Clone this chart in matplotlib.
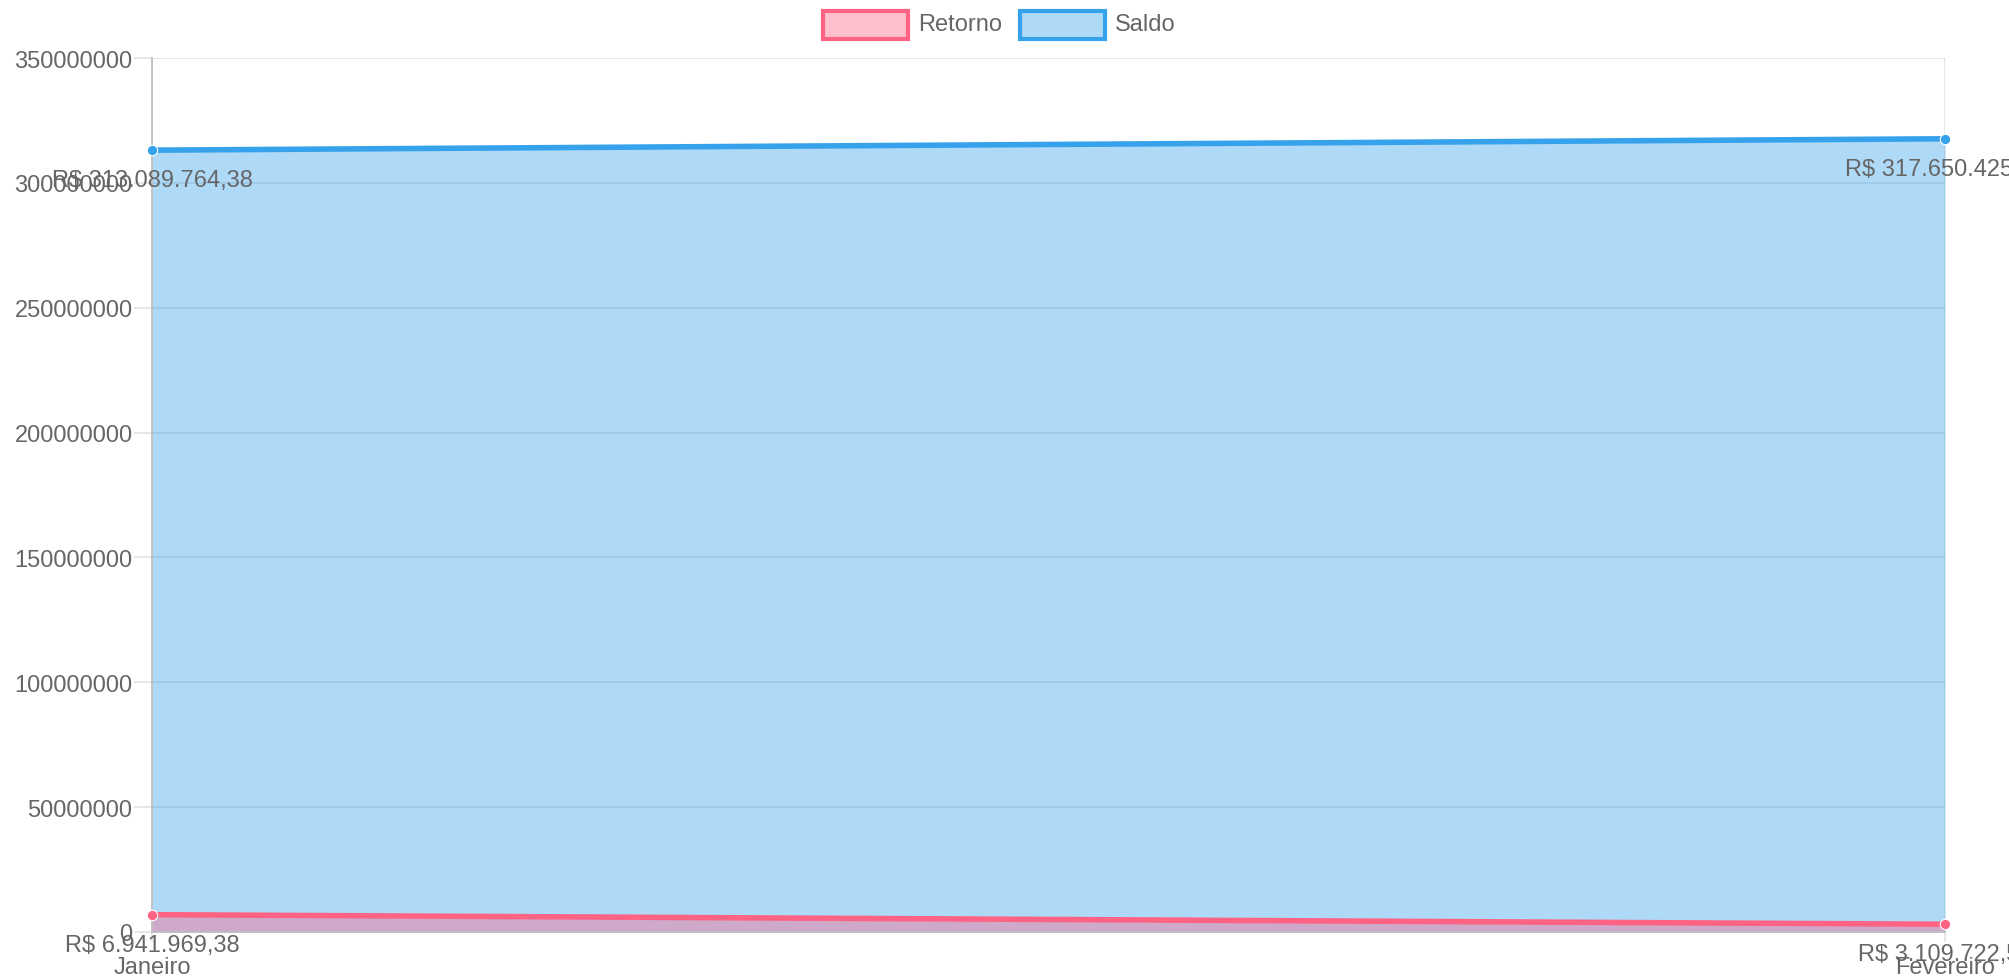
import matplotlib.pyplot as plt
from matplotlib.patches import Rectangle
from matplotlib.ticker import FuncFormatter, MultipleLocator

# data
meses = ["Janeiro", "Fevereiro"]
retorno = [6941969.38, 3109722.55]
saldo = [313089764.38, 317650425.10]
retorno_txt = ["R$ 6.941.969,38", "R$ 3.109.722,55"]
saldo_txt = ["R$ 313.089.764,38", "R$ 317.650.425,10"]

azul = "#36A2EB"
rosa = "#FF6384"
cinza = "#666666"

plt.rcParams['font.family'] = ['Liberation Sans', 'DejaVu Sans']
plt.rcParams['font.size'] = 17

W, H = 2009, 978
fig = plt.figure(figsize=(W / 100, H / 100), dpi=100)
ax = fig.add_axes([152 / W, 45 / H, (1945 - 152) / W, (933 - 59) / H])

x = list(range(len(meses)))

# fills (saldo below, retorno on top, like chart.js)
ax.fill_between(x, 0, saldo, color=azul, alpha=0.4, lw=0, zorder=1)
ax.fill_between(x, 0, retorno, color=rosa, alpha=0.4, lw=0, zorder=2)
ax.plot(x, saldo, color=azul, lw=4, zorder=3, solid_capstyle='butt')
ax.plot(x, retorno, color=rosa, lw=4, zorder=4, solid_capstyle='butt')
ax.plot(x, saldo, 'o', ms=7.5, mfc=azul, mec='white', mew=0.8, zorder=5, clip_on=False)
ax.plot(x, retorno, 'o', ms=7.5, mfc=rosa, mec='white', mew=0.8, zorder=6, clip_on=False)

# value labels below each point
for xi, v, t in zip(x, saldo, saldo_txt):
    ax.annotate(t, (xi, v), xytext=(0, -21.5), textcoords='offset points',
                ha='center', va='center', color=cinza, zorder=7, annotation_clip=False)
for xi, v, t in zip(x, retorno, retorno_txt):
    ax.annotate(t, (xi, v), xytext=(0, -21.5), textcoords='offset points',
                ha='center', va='center', color=cinza, zorder=7, annotation_clip=False)

ax.set_xlim(0, 1)
ax.set_ylim(0, 350000000)
ax.set_xticks(x)
ax.set_xticklabels(meses)
ax.yaxis.set_major_locator(MultipleLocator(50000000))
ax.yaxis.set_major_formatter(FuncFormatter(lambda v, p: "%d" % v))

ax.set_axisbelow(True)
ax.grid(True, color='black', alpha=0.1, lw=1.3)
for s in ['top', 'right']:
    ax.spines[s].set_visible(False)
ax.spines['left'].set_color('#BFBFBF')
ax.spines['bottom'].set_color('#BFBFBF')
ax.spines['left'].set_linewidth(1.3)
ax.spines['bottom'].set_linewidth(1.3)
ax.tick_params(axis='y', length=13, width=1.3, color='#E5E5E5', pad=1, labelcolor=cinza)
ax.tick_params(axis='x', length=7, width=1.3, color='#E5E5E5', pad=10, labelcolor=cinza)

# legend drawn like chart.js boxes
for bx, cor, nome in [(823, rosa, "Retorno"), (1020, azul, "Saldo")]:
    fig.add_artist(Rectangle((bx / W, 1 - 40 / H), 85 / W, 28 / H, transform=fig.transFigure,
                             facecolor=cor, alpha=0.4, lw=0))
    fig.add_artist(Rectangle((bx / W, 1 - 40 / H), 85 / W, 28 / H, transform=fig.transFigure,
                             facecolor='none', edgecolor=cor, lw=3))
    fig.text((bx + 95) / W, 1 - 25 / H, nome, color=cinza, va='center', ha='left')

fig.savefig("out.png", dpi=100)
